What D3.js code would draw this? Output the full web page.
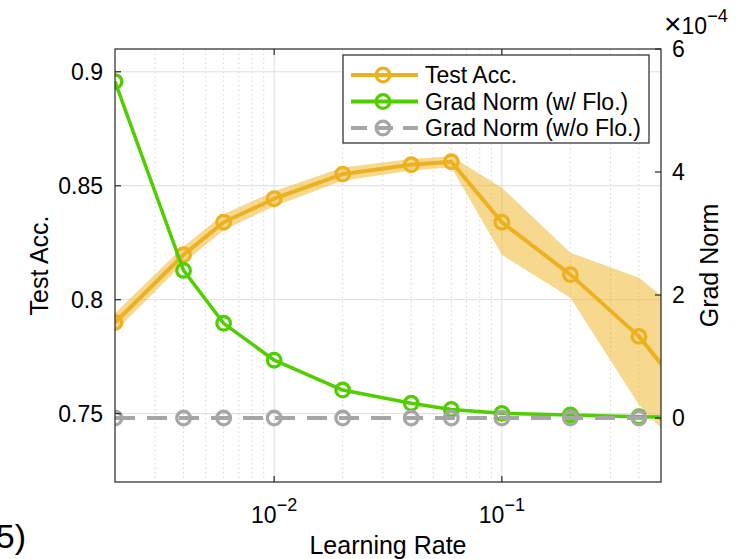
<!DOCTYPE html>
<html>
<head>
<meta charset="utf-8">
<script src="https://cdn.jsdelivr.net/npm/d3@7"></script>
<style>
  body { margin: 0; background: #fff; }
  text { font-family: "Liberation Sans", Arial, sans-serif; fill: #000; }
</style>
</head>
<body>
<div id="chart"></div>
<script>
const width = 751;
const height = 559;

// data
const learningRates = [0.002, 0.004, 0.006, 0.01, 0.02, 0.04, 0.06, 0.1, 0.2, 0.4, 0.8];
const testAcc = [0.790, 0.8197, 0.834, 0.8443, 0.8551, 0.8592, 0.8605, 0.834, 0.811, 0.7839, 0.7465];
const testAccUpper = [0.7940, 0.8233, 0.8375, 0.8476, 0.8580, 0.8617, 0.8629, 0.8491, 0.8206, 0.8096, 0.7855];
const testAccLower = [0.7860, 0.8161, 0.8305, 0.8410, 0.8522, 0.8567, 0.8581, 0.8197, 0.8009, 0.7539, 0.7224];
const gradNormFlo = [5.47e-4, 2.40e-4, 1.54e-4, 0.94e-4, 0.455e-4, 0.24e-4, 0.14e-4, 0.076e-4, 0.05e-4, 0.02e-4, 0.01e-4];
const gradNormNoFlo = [0, 0, 0, 0, 0, 0, 0, 0, 0, 0, 0];

const leftTicks = [0.75, 0.8, 0.85, 0.9];
const rightTicks = [0, 2e-4, 4e-4, 6e-4];
const xTicks = [0.01, 0.1];
const xTickExponents = ["−2", "−1"];

const legendItems = [
  { label: "Test Acc.", color: "#EDB120", dash: null },
  { label: "Grad Norm (w/ Flo.)", color: "#50CE00", dash: null },
  { label: "Grad Norm (w/o Flo.)", color: "#A6A6A6", dash: "16,10" },
];

const plot = { left: 115, right: 661, top: 49, bottom: 482 };
const axisColor = "#262626";

const svg = d3.select("#chart")
  .append("svg")
  .attr("width", width)
  .attr("height", height)
  .attr("viewBox", `0 0 ${width} ${height}`);

const x = d3.scaleLog().domain([0.002, 0.5]).range([plot.left, plot.right]);
const yLeft = d3.scaleLinear().domain([0.72, 0.91]).range([plot.bottom, plot.top]);
const yRight = d3.scaleLinear().domain([-1.04e-4, 6e-4]).range([plot.bottom, plot.top]);

svg.append("defs").append("clipPath").attr("id", "plotClip")
  .append("rect")
  .attr("x", plot.left).attr("y", plot.top)
  .attr("width", plot.right - plot.left).attr("height", plot.bottom - plot.top);

// grid
const minorTicks = [];
[0.001, 0.01, 0.1].forEach(decade => {
  for (let m = 2; m <= 9; m++) {
    const v = +(decade * m).toPrecision(3);
    if (v > 0.002 && v < 0.5) minorTicks.push(v);
  }
});

const grid = svg.append("g");
grid.selectAll(".minor")
  .data(minorTicks)
  .join("line")
  .attr("x1", d => x(d)).attr("x2", d => x(d))
  .attr("y1", plot.top).attr("y2", plot.bottom)
  .attr("stroke", "#d4d4d4")
  .attr("stroke-width", 1)
  .attr("stroke-dasharray", "1.5,3");

grid.selectAll(".majorx")
  .data(xTicks)
  .join("line")
  .attr("x1", d => x(d)).attr("x2", d => x(d))
  .attr("y1", plot.top).attr("y2", plot.bottom)
  .attr("stroke", "#dedede");

grid.selectAll(".majory")
  .data(leftTicks)
  .join("line")
  .attr("x1", plot.left).attr("x2", plot.right)
  .attr("y1", d => yLeft(d)).attr("y2", d => yLeft(d))
  .attr("stroke", "#dedede");

const marks = svg.append("g").attr("clip-path", "url(#plotClip)");
const idx = d3.range(learningRates.length);

// shaded band
marks.append("path")
  .datum(idx)
  .attr("fill", "#EDB120")
  .attr("fill-opacity", 0.5)
  .attr("d", d3.area()
    .x(i => x(learningRates[i]))
    .y0(i => yLeft(testAccLower[i]))
    .y1(i => yLeft(testAccUpper[i])));

function drawSeries(values, yScale, color, width, dash) {
  const line = d3.line()
    .x(i => x(learningRates[i]))
    .y(i => yScale(values[i]));

  marks.append("path")
    .datum(idx)
    .attr("fill", "none")
    .attr("stroke", color)
    .attr("stroke-width", width)
    .attr("stroke-linejoin", "round")
    .attr("stroke-dasharray", dash)
    .attr("d", line);

  marks.append("g")
    .selectAll("circle")
    .data(idx)
    .join("circle")
    .attr("cx", i => x(learningRates[i]))
    .attr("cy", i => yScale(values[i]))
    .attr("r", 6.8)
    .attr("fill", "none")
    .attr("stroke", color)
    .attr("stroke-width", 3.3);
}

drawSeries(testAcc, yLeft, legendItems[0].color, 4, null);
drawSeries(gradNormFlo, yRight, legendItems[1].color, 3.5, null);
drawSeries(gradNormNoFlo, yRight, legendItems[2].color, 4, "20,12");

// axes box
svg.append("rect")
  .attr("x", plot.left).attr("y", plot.top)
  .attr("width", plot.right - plot.left).attr("height", plot.bottom - plot.top)
  .attr("fill", "none")
  .attr("stroke", axisColor)
  .attr("stroke-width", 1.2);

const tickLen = 6;
const axes = svg.append("g").attr("stroke", axisColor).attr("stroke-width", 1.2);

axes.selectAll(".lt").data(leftTicks).join("line")
  .attr("x1", plot.left).attr("x2", plot.left + tickLen)
  .attr("y1", d => yLeft(d)).attr("y2", d => yLeft(d));

axes.selectAll(".rt").data(rightTicks).join("line")
  .attr("x1", plot.right - tickLen).attr("x2", plot.right)
  .attr("y1", d => yRight(d)).attr("y2", d => yRight(d));

axes.selectAll(".bt").data(xTicks).join("line")
  .attr("x1", d => x(d)).attr("x2", d => x(d))
  .attr("y1", plot.bottom - tickLen).attr("y2", plot.bottom);

axes.selectAll(".tt").data(xTicks).join("line")
  .attr("x1", d => x(d)).attr("x2", d => x(d))
  .attr("y1", plot.top).attr("y2", plot.top + tickLen);

// tick labels
const tickFont = 23;

svg.append("g").selectAll("text")
  .data(leftTicks)
  .join("text")
  .attr("x", plot.left - 12)
  .attr("y", d => yLeft(d))
  .attr("dy", "0.36em")
  .attr("text-anchor", "end")
  .style("font-size", `${tickFont}px`)
  .text(d => d3.format("")(d));

svg.append("g").selectAll("text")
  .data(rightTicks)
  .join("text")
  .attr("x", plot.right + 11)
  .attr("y", d => yRight(d))
  .attr("dy", "0.36em")
  .style("font-size", `${tickFont}px`)
  .text(d => Math.round(d * 1e4));

const xLabels = svg.append("g").selectAll("text")
  .data(xTicks)
  .join("text")
  .attr("x", d => x(d))
  .attr("y", 523)
  .attr("text-anchor", "middle")
  .style("font-size", `${tickFont}px`);
xLabels.append("tspan").text("10");
xLabels.append("tspan")
  .attr("dy", -12)
  .style("font-size", "18px")
  .text((d, i) => xTickExponents[i]);

// exponent label of the right axis
const expo = svg.append("text")
  .attr("x", 664)
  .attr("y", 34)
  .style("font-size", `${tickFont}px`);
expo.append("tspan").style("font-size", "30px").text("×");
expo.append("tspan").text("10");
expo.append("tspan").attr("dy", -12).style("font-size", "18px").text("−4");

// axis titles
svg.append("text")
  .attr("transform", `translate(${(plot.left + plot.right) / 2}, 554)`)
  .attr("text-anchor", "middle")
  .style("font-size", "25px")
  .text("Learning Rate");

svg.append("text")
  .attr("transform", `translate(48, ${(plot.top + plot.bottom) / 2}) rotate(-90)`)
  .attr("text-anchor", "middle")
  .style("font-size", "25px")
  .text("Test Acc.");

svg.append("text")
  .attr("transform", `translate(718, ${(plot.top + plot.bottom) / 2}) rotate(-90)`)
  .attr("text-anchor", "middle")
  .style("font-size", "25px")
  .text("Grad Norm");

// legend
const legend = svg.append("g");
legend.append("rect")
  .attr("x", 343).attr("y", 55)
  .attr("width", 306).attr("height", 88)
  .attr("fill", "#fff")
  .attr("stroke", axisColor)
  .attr("stroke-width", 1.2);

const rows = legend.selectAll(".row")
  .data(legendItems)
  .join("g")
  .attr("transform", (d, i) => `translate(0, ${75 + i * 26.5})`);

rows.append("line")
  .attr("x1", 351).attr("x2", 418)
  .attr("stroke", d => d.color)
  .attr("stroke-width", 4)
  .attr("stroke-dasharray", d => d.dash);

rows.append("circle")
  .attr("cx", 383).attr("r", 6.8)
  .attr("fill", "none")
  .attr("stroke", d => d.color)
  .attr("stroke-width", 3.3);

rows.append("text")
  .attr("x", 425)
  .attr("dy", "0.36em")
  .style("font-size", `${tickFont}px`)
  .text(d => d.label);

// clipped caption fragment at lower left
svg.append("text")
  .attr("x", 26)
  .attr("y", 548)
  .attr("text-anchor", "end")
  .style("font-size", "34px")
  .text("(5)");
</script>
</body>
</html>
